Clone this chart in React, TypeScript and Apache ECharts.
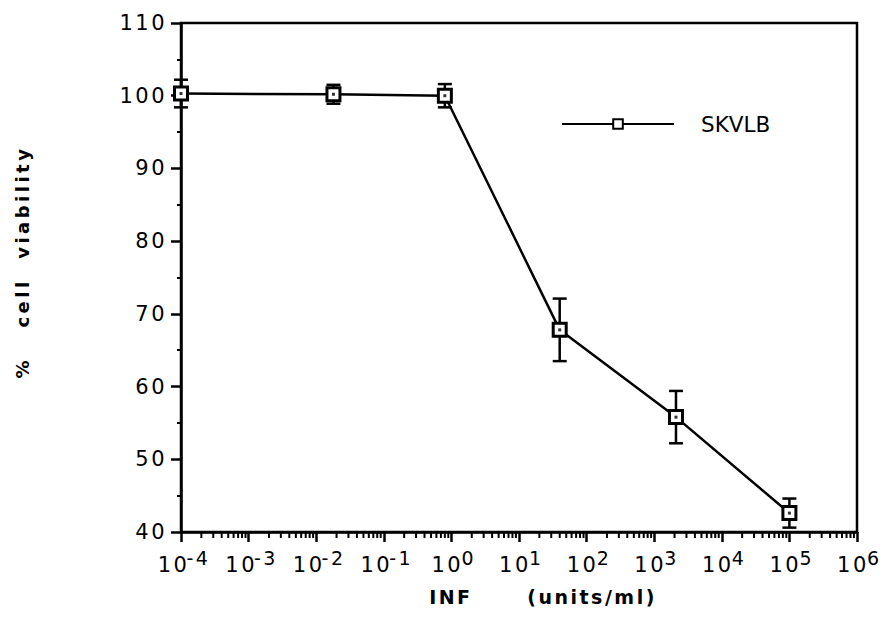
import React, { useEffect, useRef } from "react";
import * as echarts from "echarts";

// ---- data ----
const seriesName = "SKVLB";
const concentrations = [1e-4, 0.018, 0.8, 40, 2100, 1e5]; // INF units/ml
const viability = [100.3, 100.2, 100.0, 67.8, 55.8, 42.6]; // % cell viability
const viabilityErr = [1.9, 1.3, 1.6, 4.3, 3.6, 2.0]; // +/- error

// axis settings
const xMin = 1e-4;
const xMax = 1e6;
const yMin = 40;
const yMax = 110;
const yInterval = 10;
const decades = [-4, -3, -2, -1, 0, 1, 2, 3, 4, 5];
const minorMultipliers = [2, 3, 4, 5, 6, 7, 8, 9];

const xTitle = "INF      (units/ml)";
const yTitle = "%   cell  viability";

const FONT = "DejaVu Sans";

export default function App() {
  const ref = useRef<HTMLDivElement>(null);

  useEffect(() => {
    document.body.style.margin = "0";
    if (!ref.current) return;
    const chart = echarts.init(ref.current, undefined, { renderer: "svg" });

    const points = concentrations.map((x, i) => [x, viability[i]]);
    const errData = concentrations.map((x, i) => [
      x,
      viability[i] - viabilityErr[i],
      viability[i] + viabilityErr[i],
    ]);
    const minorTicks: number[][] = [];
    decades.forEach((d) =>
      minorMultipliers.forEach((m) => minorTicks.push([m * Math.pow(10, d), yMin]))
    );

    const option: any = {
      animation: false,
      backgroundColor: "#fff",
      grid: {
        left: 181,
        right: 30,
        top: 23,
        bottom: 105,
        show: true,
        borderColor: "#000",
        borderWidth: 2.5,
        backgroundColor: "transparent",
      },
      legend: {
        data: [seriesName],
        left: 556,
        top: 108,
        itemWidth: 112,
        itemHeight: 12,
        textStyle: {
          fontFamily: FONT,
          fontSize: 21.5,
          color: "#000",
          padding: [0, 0, 0, 22],
        },
      },
      xAxis: {
        type: "log",
        logBase: 10,
        min: xMin,
        max: xMax,
        splitNumber: 10,
        axisLine: { show: true, lineStyle: { color: "#000", width: 2.5 } },
        axisTick: { show: true, length: 10, lineStyle: { color: "#000", width: 2.5 } },
        splitLine: { show: false },
        axisLabel: {
          margin: 16,
          color: "#000",
          formatter: (v: number) => {
            const e = Math.round(Math.log10(v));
            const s = e < 0 ? "-" + -e : String(e);
            return "{b|10}{s|" + s + "}";
          },
          rich: {
            b: { fontFamily: FONT, fontSize: 21, color: "#000", verticalAlign: "bottom", padding: [0, 0, 0, 6] },
            s: { fontFamily: FONT, fontSize: 19, color: "#000", verticalAlign: "bottom", padding: [0, 0, 8, 2] },
          },
        },
      },
      yAxis: {
        type: "value",
        min: yMin,
        max: yMax,
        interval: yInterval,
        axisLine: { show: true, lineStyle: { color: "#000", width: 2.5 } },
        axisTick: { show: true, length: 10, lineStyle: { color: "#000", width: 2.5 } },
        minorTick: { show: true, splitNumber: 2, length: 4, lineStyle: { color: "#000", width: 2 } },
        splitLine: { show: false },
        axisLabel: { margin: 14, fontFamily: FONT, fontSize: 21, color: "#000" },
      },
      graphic: [
        {
          type: "text",
          x: 22,
          y: 262,
          rotation: Math.PI / 2,
          style: {
            text: yTitle,
            fontFamily: FONT,
            fontWeight: "bold",
            fontSize: 18,
            fill: "#000",
            align: "center",
            verticalAlign: "middle",
          },
        },
        {
          type: "text",
          x: 543,
          y: 597,
          style: {
            text: xTitle,
            fontFamily: FONT,
            fontWeight: "bold",
            fontSize: 19,
            fill: "#000",
            align: "center",
            verticalAlign: "middle",
          },
        },
      ],
      series: [
        {
          name: "minor-ticks",
          type: "custom",
          clip: false,
          silent: true,
          data: minorTicks,
          encode: { x: 0, y: 1 },
          renderItem: (params: any, api: any) => {
            const c = api.coord([api.value(0), api.value(1)]);
            return {
              type: "line",
              shape: { x1: c[0], y1: c[1], x2: c[0], y2: c[1] + 6 },
              style: { stroke: "#000", lineWidth: 2 },
            };
          },
          z: 1,
        },
        {
          name: "error",
          type: "custom",
          clip: false,
          silent: true,
          data: errData,
          encode: { x: 0, y: [1, 2] },
          renderItem: (params: any, api: any) => {
            const lo = api.coord([api.value(0), api.value(1)]);
            const hi = api.coord([api.value(0), api.value(2)]);
            const hw = 7;
            const st = { stroke: "#000", lineWidth: 2.5 };
            return {
              type: "group",
              children: [
                { type: "line", shape: { x1: lo[0], y1: lo[1], x2: hi[0], y2: hi[1] }, style: st },
                { type: "line", shape: { x1: lo[0] - hw, y1: lo[1], x2: lo[0] + hw, y2: lo[1] }, style: st },
                { type: "line", shape: { x1: hi[0] - hw, y1: hi[1], x2: hi[0] + hw, y2: hi[1] }, style: st },
              ],
            };
          },
          z: 2,
        },
        {
          name: seriesName,
          type: "line",
          data: points,
          symbol: "rect",
          symbolSize: 13,
          showSymbol: true,
          lineStyle: { color: "#000", width: 2.5 },
          itemStyle: { color: "#fff", borderColor: "#000", borderWidth: 3 },
          z: 3,
        },
        {
          name: "dots",
          type: "scatter",
          data: points,
          symbol: "rect",
          symbolSize: 3,
          silent: true,
          itemStyle: { color: "#000" },
          z: 4,
        },
      ],
    };

    chart.setOption(option);
    return () => chart.dispose();
  }, []);

  return (
    <>
      <style>{`svg text[style*="21px"], svg text[style*="19px"] { letter-spacing: 2.5px; } svg text[style*="bold"] { letter-spacing: 2.5px; } svg text[style*="bold"][style*="18px"] { letter-spacing: 3.5px; }`}</style>
      <div ref={ref} style={{ width: 887, height: 637 }} />
    </>
  );
}
